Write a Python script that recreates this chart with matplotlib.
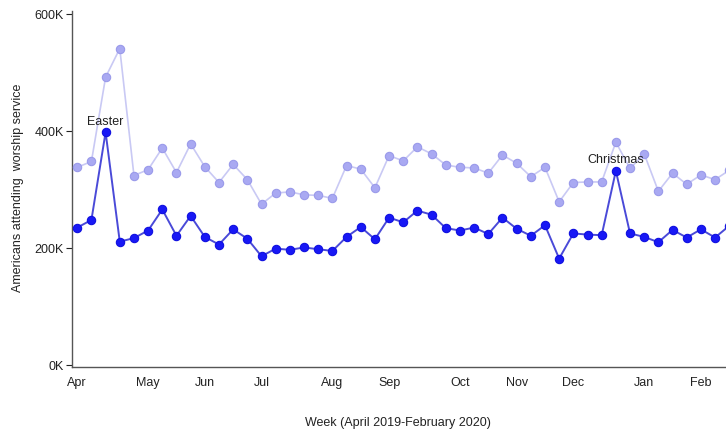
import pandas as pd
import matplotlib.pyplot as plt
import matplotlib.dates as mdates

# weekly values (thousands), weeks starting Monday 2019-04-01
FIRST_WEEK = "2019-04-01"
attend_all = [338, 348, 492, 541, 324, 334, 371, 329, 378, 339, 312, 343, 317, 275, 294,
              296, 291, 290, 285, 341, 335, 303, 358, 349, 373, 361, 342, 338, 337, 328,
              359, 345, 322, 338, 279, 312, 313, 313, 381, 336, 361, 297, 328, 309, 325,
              317, 333]
attend_sub = [235, 248, 398, 211, 217, 230, 266, 221, 255, 219, 206, 232, 216, 186, 199,
              197, 201, 198, 195, 219, 236, 215, 252, 244, 264, 257, 234, 230, 235, 224,
              252, 233, 221, 239, 182, 225, 223, 222, 332, 225, 219, 210, 231, 218, 232,
              218, 238]
holidays = {"Easter": 2, "Christmas": 38}
y_ticks = [0, 200, 400, 600]

plt.rcParams["font.family"] = ["Liberation Sans", "DejaVu Sans"]

weeks = pd.date_range(FIRST_WEEK, periods=len(attend_sub), freq="W-MON")
x = mdates.date2num(weeks)
wk = 7.0

fig = plt.figure(figsize=(7.26, 4.34), dpi=100)
# axes runs past the right edge, like the cropped original
ax = fig.add_axes([72 / 726, 0.1548, (742 - 72) / 726, 0.8196])

ax.plot(x, attend_all, color="#c9c9f4", lw=1.2, zorder=2)
ax.plot(x, attend_all, ls="none", marker="o", ms=6.0, mfc="#a9a9f2",
        mec="#9a9aea", mew=0.8, zorder=3)
ax.plot(x, attend_sub, color="#4a4ad8", lw=1.4, zorder=4)
ax.plot(x, attend_sub, ls="none", marker="o", ms=6.0, mfc="#1818f5",
        mec="#1010e0", mew=0.8, zorder=5)

for name, i in holidays.items():
    ax.annotate(name, (x[i], attend_sub[i]), xytext=(0, 7.5), textcoords="offset points",
                ha="center", va="center", fontsize=9, color="#222222", zorder=6)

ax.set_xlim(x[0] - 0.37 * wk, x[0] + 46.9 * wk)
ax.set_ylim(-3, 605)

month_idx = [i for i, d in enumerate(weeks) if d.day <= 7]
ax.set_xticks(x[month_idx])
ax.set_xticklabels([weeks[i].strftime("%b") for i in month_idx])
ax.tick_params(axis="x", length=0, pad=7, labelsize=9, colors="#222222")
ax.set_yticks(y_ticks)
ax.set_yticklabels([f"{v}K" for v in y_ticks])
ax.tick_params(axis="y", length=4, width=0.8, pad=2, labelsize=9, colors="#222222")

for s in ["top", "right"]:
    ax.spines[s].set_visible(False)
for s in ["left", "bottom"]:
    ax.spines[s].set_color("#555555")
    ax.spines[s].set_linewidth(1)

fig.text(398 / 726, 1 - 423 / 434, "Week (April 2019-February 2020)", ha="center",
         va="center", fontsize=9, color="#222222")
fig.text(18 / 726, 1 - 188 / 434, "Americans attending  worship service", rotation=90,
         ha="center", va="center", fontsize=9, color="#222222")

fig.savefig("out.png", dpi=100, facecolor="white")
